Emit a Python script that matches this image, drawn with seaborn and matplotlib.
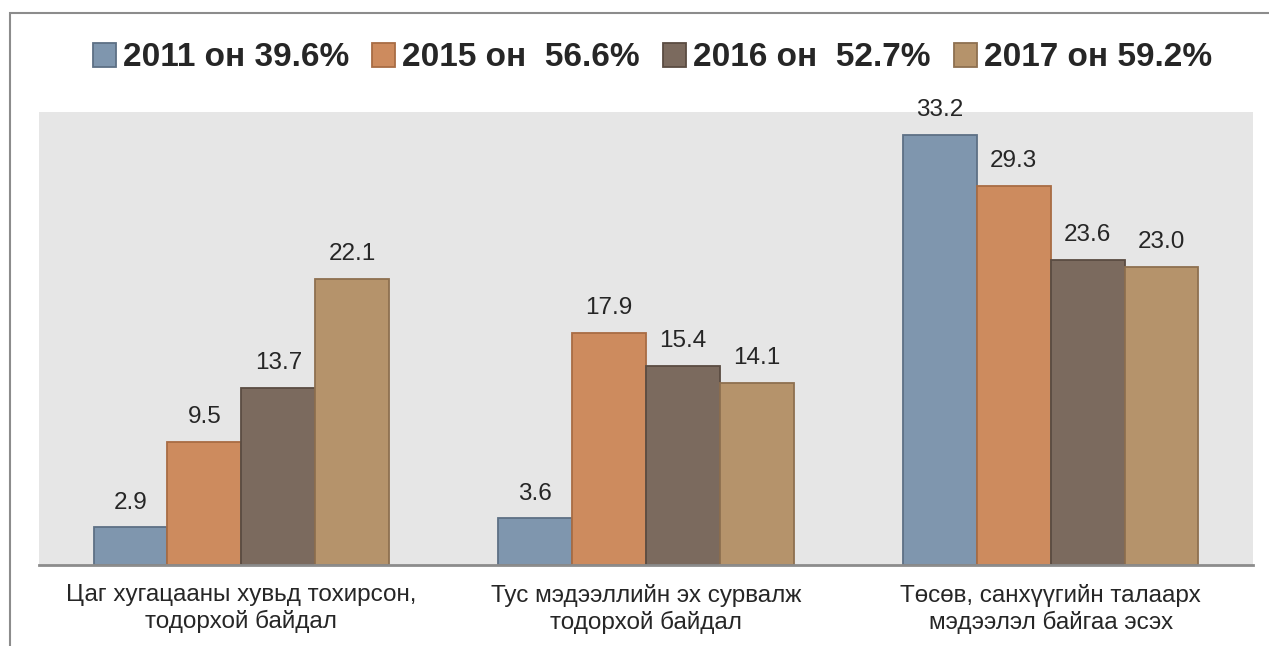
import pandas as pd
import numpy as np
import matplotlib.pyplot as plt
import matplotlib.patches as mpatches
import seaborn as sns

# Données
categories = ["Цаг хугацааны хувьд тохирсон,\nтодорхой байдал",
              "Тус мэдээллийн эх сурвалж\nтодорхой байдал",
              "Төсөв, санхүүгийн талаарх\nмэдээлэл байгаа эсэх"]
years = ["2011 он 39.6%", "2015 он  56.6%", "2016 он  52.7%", "2017 он 59.2%"]
v2011 = [2.9, 3.6, 33.2]
v2015 = [9.5, 17.9, 29.3]
v2016 = [13.7, 15.4, 23.6]
v2017 = [22.1, 14.1, 23.0]

colors = ["#7F96AE", "#CD8B5E", "#7B6A5E", "#B5936B"]
edges = ["#5D7085", "#A86C44", "#5A4C42", "#8E7050"]

df = pd.DataFrame({
    "cat": categories * 4,
    "year": [y for y in years for _ in categories],
    "val": v2011 + v2015 + v2016 + v2017,
})

sns.set_style("white")
plt.rcParams['font.family'] = ['Liberation Sans', 'DejaVu Sans']

fig = plt.figure(figsize=(12.69, 6.46), dpi=100)
ax = fig.add_axes([39/1269, 1-565/646, (1253-39)/1269, (565-112)/646])
ax.set_facecolor("#E6E6E6")

sns.barplot(data=df, x="cat", y="val", hue="year", palette=colors,
            width=0.73, gap=0, ax=ax, legend=False, saturation=1)

for cont, ec in zip(ax.containers, edges):
    for b in cont:
        b.set_edgecolor(ec)
        b.set_linewidth(1.3)
    ax.bar_label(cont, fmt="%.1f", padding=10, fontsize=17.5)

ax.set_ylim(0, 35)
ax.set_xlim(-0.5, 2.5)
ax.set_yticks([])
ax.set_xlabel("")
ax.set_ylabel("")
ax.tick_params(axis="x", length=0, pad=14, labelsize=17.5)
for s in ["top", "right", "left"]:
    ax.spines[s].set_visible(False)
ax.spines["bottom"].set_color("#8C8C8C")
ax.spines["bottom"].set_linewidth(2)

# Légende
handles = [mpatches.Patch(facecolor=c, edgecolor=e, linewidth=1.3, label=y)
           for c, e, y in zip(colors, edges, years)]
fig.legend(handles=handles, loc="center", bbox_to_anchor=(0.514, 1-58/646), ncol=4,
           frameon=False, prop={"size": 24, "weight": "bold"},
           handlelength=0.7, handleheight=0.7, handletextpad=0.2, columnspacing=0.7)

# Cadre
frame = mpatches.Rectangle((10/1269, -0.05), 1.1, 1-13/646+0.05, transform=fig.transFigure,
                           fill=False, edgecolor="#8C8C8C", linewidth=1.5, clip_on=False)
fig.patches.append(frame)

fig.savefig("out.png", dpi=100)
